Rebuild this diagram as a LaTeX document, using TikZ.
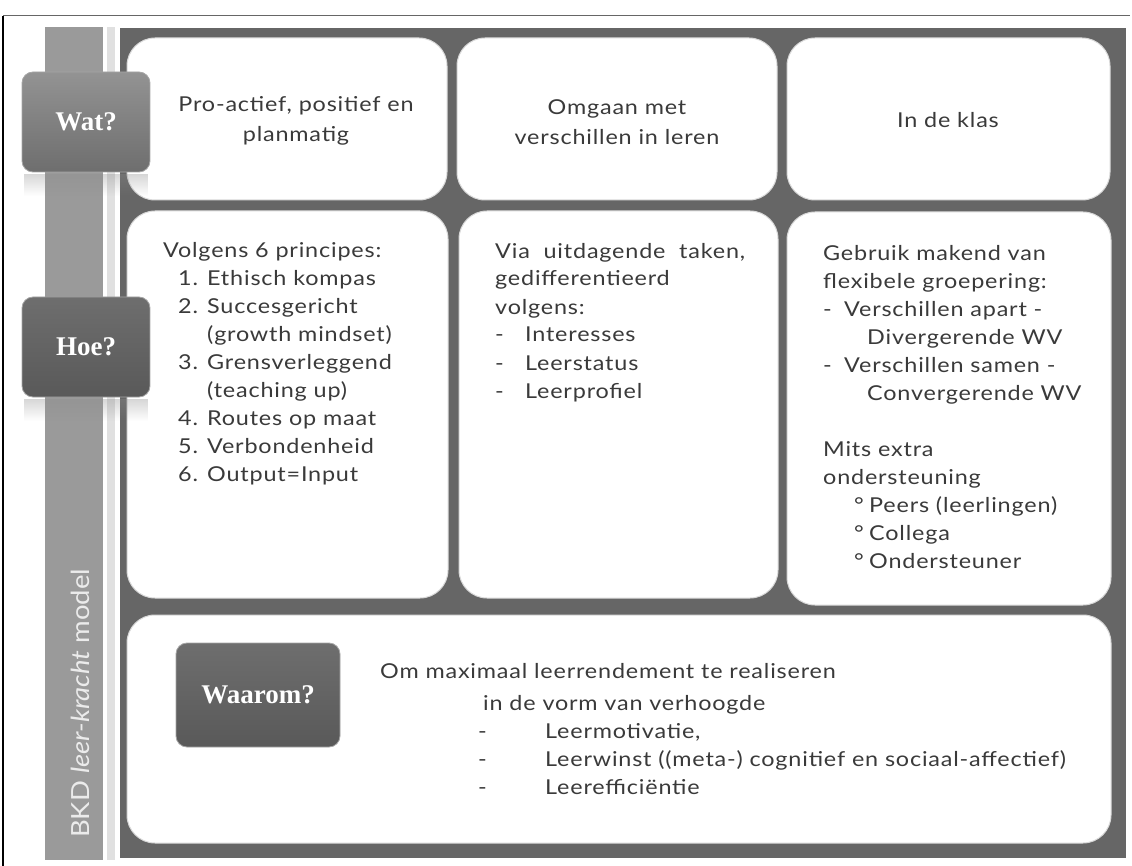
\documentclass[tikz,border=0pt]{standalone}
\usepackage{fontspec}
\setmainfont{Lato}[FakeStretch=1.14, LetterSpace=4]
\newfontfamily\labelfont{Lato}[FakeStretch=1.1]
\newfontfamily\btnfont{Liberation Serif}
\usetikzlibrary{fadings}
\definecolor{panel}{HTML}{666666}
\definecolor{sidebar}{HTML}{9A9A9A}
\definecolor{txt}{HTML}{3A3A3A}
\definecolor{btnlight}{HTML}{939393}
\definecolor{btnmid}{HTML}{6E6E6E}
\definecolor{btndark}{HTML}{595959}
\definecolor{boxedge}{HTML}{D8D8D8}
\tikzfading[name=fadedown, top color=transparent!65, bottom color=transparent!100]
\begin{document}
\begin{tikzpicture}[x=1pt,y=-1pt,
  box/.style={draw=boxedge, line width=1pt, fill=white, rounded corners=28pt, inner sep=0pt},
  btn/.style={draw=black!35, line width=0.8pt, rounded corners=11pt, inner sep=0pt,
    font=\btnfont\bfseries\fontsize{27}{30}\selectfont, text=white},
  body/.style={font=\fontsize{20.5}{28}\selectfont, text=txt, inner sep=0pt, align=left},
  ctext/.style={font=\fontsize{20.5}{30}\selectfont, text=txt, inner sep=0pt, align=center},
  refl/.style={fill=black!45, path fading=fadedown}
]
\useasboundingbox (0,0) rectangle (1132,866);
% outer frame lines
\draw[black!60, line width=1pt] (3,16) -- (1130,16);
\draw[black, line width=2pt] (3,16) -- (3,866);
% side bar and separator
\fill[sidebar] (45,27) rectangle (103,860);
\fill[black!12] (107,27) rectangle (115,860);
% dark panel
\fill[panel] (120,28) rectangle (1126,858);
% boxes
\node[box, minimum width=320pt, minimum height=162pt] (t1) at (287,119) {};
\node[box, minimum width=320pt, minimum height=162pt] (t2) at (617,119) {};
\node[box, minimum width=323pt, minimum height=162pt] (t3) at (948.5,119) {};
\node[box, minimum width=321pt, minimum height=387pt] (m1) at (287.5,404.5) {};
\node[box, minimum width=319pt, minimum height=387pt] (m2) at (618.5,404.5) {};
\node[box, minimum width=324pt, minimum height=393pt] (m3) at (949,408.5) {};
\node[box, minimum width=984pt, minimum height=228pt] (bb) at (619,729) {};
% vertical label
\node[rotate=90, anchor=base west, inner sep=0pt, text=white!92!black,
  font=\labelfont\fontsize{25}{28}\selectfont] (lbl) at (89,838) {BKD \textit{leer-kracht} model};
% reflections
\fill[refl] (24,174) rectangle (148,196);
\fill[refl] (24,399) rectangle (148,421);
% buttons
\node[btn, top color=btnlight, bottom color=btnmid, minimum width=128pt, minimum height=100pt] (wat) at (86,122) {Wat?};
\node[btn, top color=btnmid, bottom color=btndark, minimum width=128pt, minimum height=100pt] (hoe) at (86,347) {Hoe?};
\node[btn, top color=btnmid, bottom color=btndark, minimum width=164pt, minimum height=104pt] (waarom) at (258,695) {Waarom?};
% top row texts (anchor = baseline of last line)
\node[ctext, anchor=base] (t1txt) at (296,142) {Pro-actief, positief en\\planmatig};
\node[ctext, anchor=base] (t2txt) at (617,145) {Omgaan met\\verschillen in leren};
\node[ctext, anchor=base] (t3txt) at (948,128) {In de klas};
% middle row texts
\node[body, anchor=base west] (m1txt) at (163,481) {Volgens 6 principes:\\
\hspace*{15pt}\makebox[29pt][l]{1.}Ethisch kompas\\
\hspace*{15pt}\makebox[29pt][l]{2.}Succesgericht\\
\hspace*{44pt}(growth mindset)\\
\hspace*{15pt}\makebox[29pt][l]{3.}Grensverleggend\\
\hspace*{44pt}(teaching up)\\
\hspace*{15pt}\makebox[29pt][l]{4.}Routes op maat\\
\hspace*{15pt}\makebox[29pt][l]{5.}Verbondenheid\\
\hspace*{15pt}\makebox[29pt][l]{6.}Output=Input};
\node[body, anchor=base west] (m2txt) at (495,398) {\makebox[250pt][s]{Via\hfill uitdagende\hfill taken,}\\
gedifferentieerd\\
volgens:\\
\makebox[30pt][l]{-}Interesses\\
\makebox[30pt][l]{-}Leerstatus\\
\makebox[30pt][l]{-}Leerprofiel};
\node[body, anchor=base west] (m3txt) at (823,568) {Gebruik makend van\\
flexibele groepering:\\
\makebox[21pt][l]{-}Verschillen apart -\\
\hspace*{44pt}Divergerende WV\\
\makebox[21pt][l]{-}Verschillen samen -\\
\hspace*{44pt}Convergerende WV\\
\mbox{}\\
Mits extra\\
ondersteuning\\
\hspace*{31pt}\makebox[15pt][l]{°}Peers (leerlingen)\\
\hspace*{31pt}\makebox[15pt][l]{°}Collega\\
\hspace*{31pt}\makebox[15pt][l]{°}Ondersteuner};
% bottom texts
\node[body, anchor=base west] (b1txt) at (380,678) {Om maximaal leerrendement te realiseren};
\node[body, anchor=base west] (b2txt) at (478,794) {\hspace*{5pt}in de vorm van verhoogde\\
\makebox[67pt][l]{-}Leermotivatie,\\
\makebox[67pt][l]{-}Leerwinst ((meta-) cognitief en sociaal-affectief)\\
\makebox[67pt][l]{-}Leerefficiëntie};
\end{tikzpicture}
\end{document}
